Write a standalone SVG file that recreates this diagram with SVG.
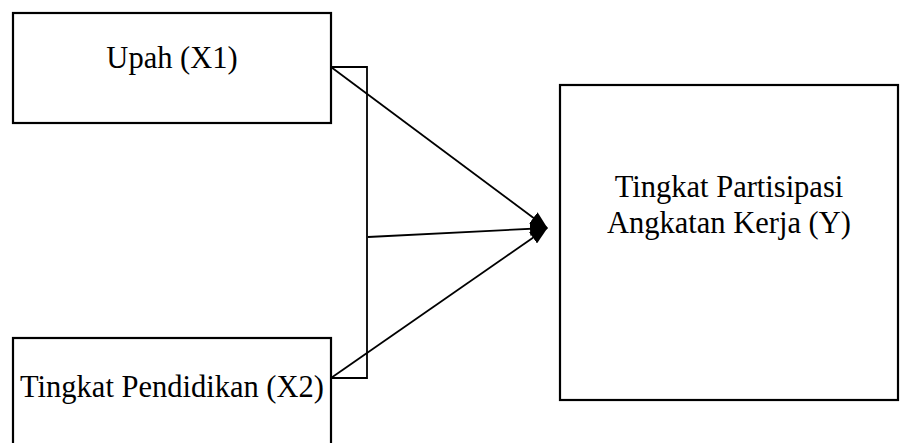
<svg xmlns="http://www.w3.org/2000/svg" width="901" height="443" viewBox="0 0 901 443">
<style>
.box{fill:#fff;stroke:#000;stroke-width:2.2}
.t{font-family:"Liberation Serif","Times New Roman",serif;font-size:30.5px;fill:#000;text-anchor:middle}
.c{fill:none;stroke:#000;stroke-width:1.8}
</style>
<defs>
<marker id="ah" markerWidth="18" markerHeight="14" refX="17" refY="7" orient="auto" markerUnits="userSpaceOnUse">
<path d="M0,0 L18,7 L0,14 Z" fill="#000"/>
</marker>
</defs>
<rect width="901" height="443" fill="#fff"/>
<g id="x1">
<rect class="box" x="13" y="13" width="318" height="110"/>
<text class="t" x="172" y="68">Upah (X1)</text>
</g>
<g id="x2">
<rect class="box" x="13" y="338" width="318" height="110"/>
<text class="t" x="172" y="397">Tingkat Pendidikan (X2)</text>
</g>
<g id="y">
<rect class="box" x="560" y="85" width="338" height="315"/>
<text class="t" x="729" y="197">Tingkat Partisipasi</text>
<text class="t" x="729" y="233">Angkatan Kerja (Y)</text>
</g>
<g id="connectors">
<polyline class="c" points="331,67 367,67 367,378 331,378"/>
<line class="c" x1="331" y1="67" x2="547" y2="228" marker-end="url(#ah)"/>
<line class="c" x1="368" y1="237" x2="547" y2="228" marker-end="url(#ah)"/>
<line class="c" x1="331" y1="378" x2="547" y2="228" marker-end="url(#ah)"/>
</g>
</svg>
